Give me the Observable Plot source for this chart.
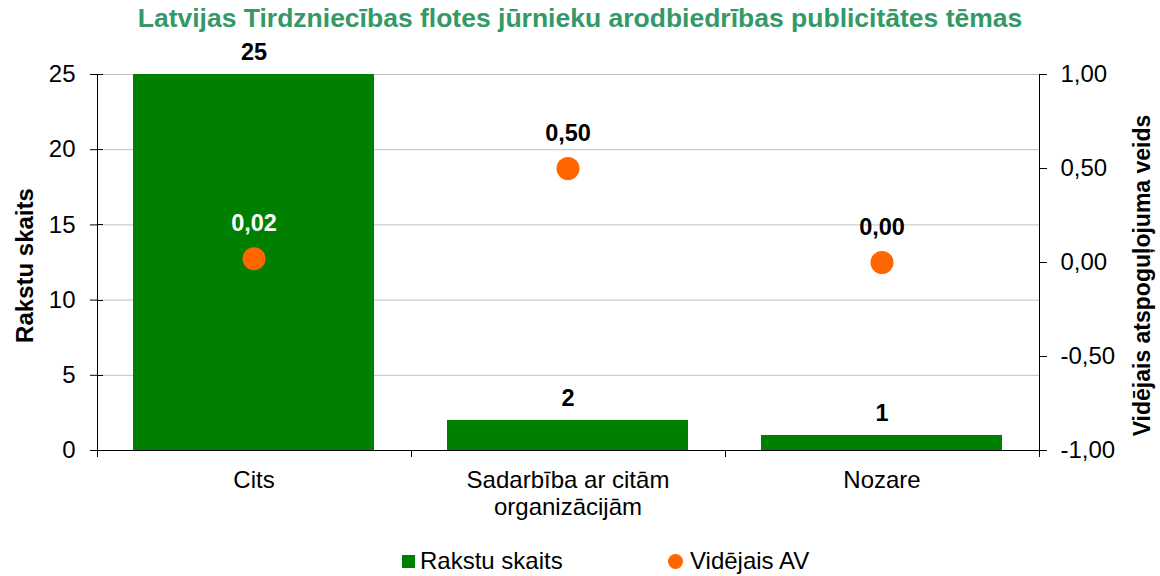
<!DOCTYPE html>
<html>
<head>
<meta charset="utf-8">
<script src="https://cdn.jsdelivr.net/npm/d3@7"></script>
<script src="https://cdn.jsdelivr.net/npm/@observablehq/plot@0.6"></script>
<style>
  html, body { margin: 0; padding: 0; background: #fff; }
  body { width: 1160px; height: 576px; overflow: hidden; font-family: "Liberation Sans", Arial, sans-serif; position: relative; }
  #title { height: 36px; line-height: 36px; text-align: center; font-weight: bold; font-size: 26.5px; color: #339966; white-space: nowrap; }
  #chart svg { display: block; }
  #legend { position: relative; height: 36px; font-size: 24px; color: #000; }
  .item { position: absolute; top: 3px; height: 36px; display: flex; align-items: center; white-space: nowrap; }
  .sw { width: 13px; height: 13px; background: #008000; margin-right: 5px; }
  .dot { width: 15px; height: 15px; border-radius: 50%; background: #ff6600; margin-right: 7px; }
</style>
</head>
<body>
<div id="title">Latvijas Tirdzniecības flotes jūrnieku arodbiedrības publicitātes tēmas</div>
<div id="chart"></div>
<div id="legend">
  <div class="item" style="left:402px"><div class="sw"></div>Rakstu skaits</div>
  <div class="item" style="left:668px"><div class="dot"></div>Vidējais AV</div>
</div>
<script>
const categories = ["Cits", "Sadarbība ar citām\norganizācijām", "Nozare"];
const counts = [25, 2, 1];
const avgAV = [0.02, 0.50, 0.00];
const countTicks = [0, 5, 10, 15, 20, 25];
const avTicks = [-1, -0.5, 0, 0.5, 1];
const leftTitle = "Rakstu skaits";
const rightTitle = "Vidējais atspoguļojuma veids";

const countMax = 25;
const avMin = -1, avMax = 1;
const avToY = v => (v - avMin) / (avMax - avMin) * countMax;
const yToAv = y => y / countMax * (avMax - avMin) + avMin;
const fmt2 = v => d3.format(".2f")(Math.abs(v) < 1e-9 ? 0 : v).replace(".", ",").replace("\u2212", "-");

const rows = categories.map((c, i) => ({cat: c, count: counts[i], av: avgAV[i], avY: avToY(avgAV[i])}));

function axisLines(index, scales, values, dims) {
  const {width, height, marginLeft, marginRight, marginTop, marginBottom} = dims;
  const x0 = marginLeft, x1 = width - marginRight, y0 = marginTop, y1 = height - marginBottom;
  const g = d3.create("svg:g").attr("stroke", "#000").attr("stroke-width", 1).attr("shape-rendering", "crispEdges");
  g.append("line").attr("x1", x0 + 0.5).attr("x2", x0 + 0.5).attr("y1", y0).attr("y2", y1);
  g.append("line").attr("x1", x1 + 0.5).attr("x2", x1 + 0.5).attr("y1", y0).attr("y2", y1);
  g.append("line").attr("x1", x0).attr("x2", x1).attr("y1", y1 + 0.5).attr("y2", y1 + 0.5);
  const n = categories.length;
  for (let k = 0; k <= n; k++) {
    const x = Math.round(x0 + k * (x1 - x0) / n) + 0.5;
    g.append("line").attr("x1", x).attr("x2", x).attr("y1", y1).attr("y2", y1 + 7);
  }
  for (const t of countTicks) {
    const y = Math.round(scales.y(t)) + 0.5;
    g.append("line").attr("x1", x0).attr("x2", x0 + 6).attr("y1", y).attr("y2", y);
  }
  return g.node();
}

const chart = Plot.plot({
  width: 1160,
  height: 504,
  marginTop: 38,
  marginBottom: 90,
  marginLeft: 97,
  marginRight: 121,
  style: {fontFamily: "Liberation Sans, Arial, sans-serif", color: "#000", background: "#fff"},
  x: {domain: categories, paddingInner: 0.232, paddingOuter: 0.116, axis: null},
  y: {domain: [0, countMax], axis: null},
  marks: [
    Plot.ruleY(countTicks.filter(d => d > 0), {stroke: "#c0c0c0", strokeWidth: 1}),
    Plot.barY(rows, {x: "cat", y: "count", fill: "#008000"}),
    axisLines,
    Plot.axisY({anchor: "left", ticks: countTicks, tickSize: 7, tickPadding: 15, fontSize: 24, label: null, tickFormat: d => String(d)}),
    Plot.axisY({anchor: "right", ticks: avTicks.map(avToY), tickSize: 7, tickPadding: 14, fontSize: 24, label: null, tickFormat: d => fmt2(yToAv(d))}),
    Plot.axisX({anchor: "bottom", tickSize: 0, tickPadding: 18, fontSize: 24, label: null, lineHeight: 1.13}),
    Plot.text(rows, {x: "cat", y: "count", text: d => String(d.count), dy: -22, fontSize: 23.5, fontWeight: "bold", fill: "#000"}),
    Plot.dot(rows, {x: "cat", y: "avY", r: 11.5, fill: "#ff6600", stroke: null}),
    Plot.text(rows, {x: "cat", y: "avY", text: d => fmt2(d.av), dy: -35, fontSize: 23.5, fontWeight: "bold", fill: d => d.avY < d.count ? "#fff" : "#000"}),
    Plot.text([leftTitle], {frameAnchor: "left", textAnchor: "middle", rotate: -90, dx: -72, dy: 3, text: d => d, fontSize: 24, fontWeight: "bold"}),
    Plot.text([rightTitle], {frameAnchor: "right", textAnchor: "middle", rotate: -90, dx: 103, dy: 13, text: d => d, fontSize: 23, fontWeight: "bold"})
  ]
});
document.getElementById("chart").appendChild(chart);
</script>
</body>
</html>
